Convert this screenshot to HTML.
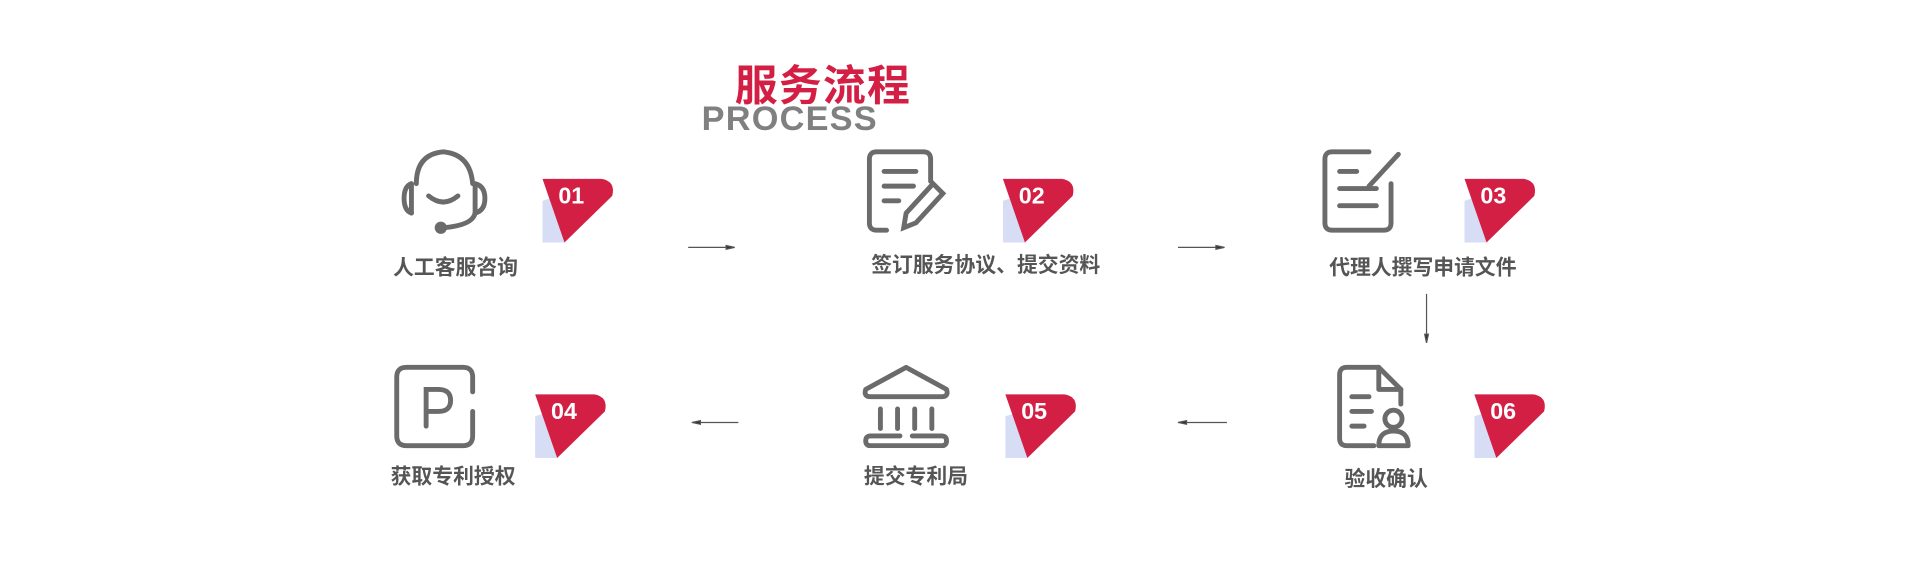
<!DOCTYPE html>
<html><head><meta charset="utf-8"><style>
html,body{margin:0;padding:0;background:#fff;}
body{width:1920px;height:588px;overflow:hidden;position:relative;}
#w{position:absolute;left:0;top:0;width:1568px;height:480px;transform:scale(1.2245);transform-origin:0 0;font-family:"Liberation Sans","Noto Sans CJK SC",sans-serif;}
.a{position:absolute;}
.lab{position:absolute;font-size:17px;font-weight:bold;color:#555;white-space:nowrap;transform:translateX(-50%);}
.badge{position:absolute;width:60px;height:52px;}
.badge span{position:absolute;left:13px;top:4px;color:#fff;font-weight:bold;font-size:19px;}
</style></head><body><div id="w">
<div class="a" style="left:600px;top:42px;font-size:35px;font-weight:bold;color:#d41f45;letter-spacing:1px;">服务流程</div>
<div class="a" style="left:573px;top:81px;font-size:28px;font-weight:bold;color:#808080;letter-spacing:1px;">PROCESS</div>

<svg width="0" height="0" style="position:absolute"><defs>
<g id="bd"><polygon points="0,18 6,16 18,52 0,52" fill="#d6ddf5"/><path d="M0,0 L48,0 Q60,2 57,14 L18,52 Z" fill="#d41f45"/></g>
</defs></svg>

<svg class="a" style="left:326px;top:120px" width="76" height="74" viewBox="0 0 76 74" fill="none" stroke="#6b6b6b" stroke-width="4" stroke-linecap="round">
<path d="M14,30 Q14,6 36,4 Q58,6 60,30"/>
<path d="M10,30 Q4,32 4,42 Q4,52 10,54"/><path d="M10,30 V54"/>
<path d="M62,30 Q70,32 70,42 Q70,52 62,54 V30"/>
<path d="M24,40 Q36,50 48,40"/>
<path d="M62,54 Q60,64 36,66"/><circle cx="34" cy="66" r="3" fill="#6b6b6b"/>
</svg>
<svg class="a" style="left:706px;top:120px" width="72" height="72" viewBox="0 0 72 72" fill="none" stroke="#6b6b6b" stroke-width="4" stroke-linecap="round">
<path d="M54,28 V10 Q54,4 48,4 H10 Q4,4 4,10 V62 Q4,68 10,68 H18"/>
<path d="M16,20 H42 M16,32 H40 M16,44 H28"/>
<path d="M56,30 L64,38 L42,62 L32,66 L34,54 Z"/>
</svg>
<svg class="a" style="left:1078px;top:120px" width="70" height="72" viewBox="0 0 70 72" fill="none" stroke="#6b6b6b" stroke-width="4" stroke-linecap="round">
<path d="M40,4 H10 Q4,4 4,10 V62 Q4,68 10,68 H52 Q58,68 58,62 V30"/>
<path d="M16,20 H30 M16,34 H46 M16,48 H46"/>
<path d="M64,6 L40,32"/>
</svg>
<svg class="a" style="left:320px;top:296px" width="72" height="72" viewBox="0 0 72 72" fill="none" stroke="#6b6b6b" stroke-width="4" stroke-linecap="round">
<path d="M66,24 V12 Q66,4 58,4 H12 Q4,4 4,12 V60 Q4,68 12,68 H58 Q66,68 66,60 V40"/>
<path d="M28,52 V22 H38 Q48,22 48,31 Q48,40 38,40 H28"/>
</svg>
<svg class="a" style="left:701px;top:296px" width="78" height="70" viewBox="0 0 78 70" fill="none" stroke="#6b6b6b" stroke-width="4" stroke-linecap="round" stroke-linejoin="round">
<path d="M39,4 L72,22 Q74,28 68,28 H10 Q4,28 6,22 Z"/>
<path d="M18,38 V54 M32,38 V54 M46,38 V54 M60,38 V54"/>
<path d="M34,60 H10 Q6,60 6,64 Q6,68 10,68 H68 Q72,68 72,64 Q72,60 68,60 H44"/>
</svg>
<svg class="a" style="left:1090px;top:296px" width="66" height="72" viewBox="0 0 66 72" fill="none" stroke="#6b6b6b" stroke-width="4" stroke-linecap="round" stroke-linejoin="round">
<path d="M32,68 H10 Q4,68 4,62 V10 Q4,4 10,4 H36 L54,22 V34"/>
<path d="M36,4 V22 H54"/>
<path d="M14,28 H28 M14,40 H30 M14,52 H24"/>
<circle cx="48" cy="46" r="7"/><path d="M36,68 Q36,56 48,56 Q60,56 60,68 Z"/>
</svg>

<svg class="badge" style="left:443px;top:146px" viewBox="0 0 60 52"><use href="#bd"/></svg><div class="badge" style="left:443px;top:146px"><span>01</span></div>
<svg class="badge" style="left:819px;top:146px" viewBox="0 0 60 52"><use href="#bd"/></svg><div class="badge" style="left:819px;top:146px"><span>02</span></div>
<svg class="badge" style="left:1196px;top:146px" viewBox="0 0 60 52"><use href="#bd"/></svg><div class="badge" style="left:1196px;top:146px"><span>03</span></div>
<svg class="badge" style="left:437px;top:322px" viewBox="0 0 60 52"><use href="#bd"/></svg><div class="badge" style="left:437px;top:322px"><span>04</span></div>
<svg class="badge" style="left:821px;top:322px" viewBox="0 0 60 52"><use href="#bd"/></svg><div class="badge" style="left:821px;top:322px"><span>05</span></div>
<svg class="badge" style="left:1204px;top:322px" viewBox="0 0 60 52"><use href="#bd"/></svg><div class="badge" style="left:1204px;top:322px"><span>06</span></div>

<div class="lab" style="left:372px;top:204px">人工客服咨询</div>
<div class="lab" style="left:805px;top:202px">签订服务协议、提交资料</div>
<div class="lab" style="left:1162px;top:204px">代理人撰写申请文件</div>
<div class="lab" style="left:370px;top:375px">获取专利授权</div>
<div class="lab" style="left:748px;top:375px">提交专利局</div>
<div class="lab" style="left:1132px;top:377px">验收确认</div>

<svg class="a" style="left:0;top:0" width="1568" height="480">
<g stroke="#555" stroke-width="1" fill="#333">
<line x1="562" y1="202" x2="596" y2="202"/><polygon points="600,202 593,200.5 593,203.5"/>
<line x1="962" y1="202" x2="996" y2="202"/><polygon points="1000,202 993,200.5 993,203.5"/>
<line x1="569" y1="345" x2="603" y2="345"/><polygon points="565,345 572,343.5 572,346.5"/>
<line x1="966" y1="345" x2="1002" y2="345"/><polygon points="962,345 969,343.5 969,346.5"/>
<line x1="1165" y1="240" x2="1165" y2="276"/><polygon points="1165,280 1163.5,273 1166.5,273"/>
</g></svg>
</div></body></html>
